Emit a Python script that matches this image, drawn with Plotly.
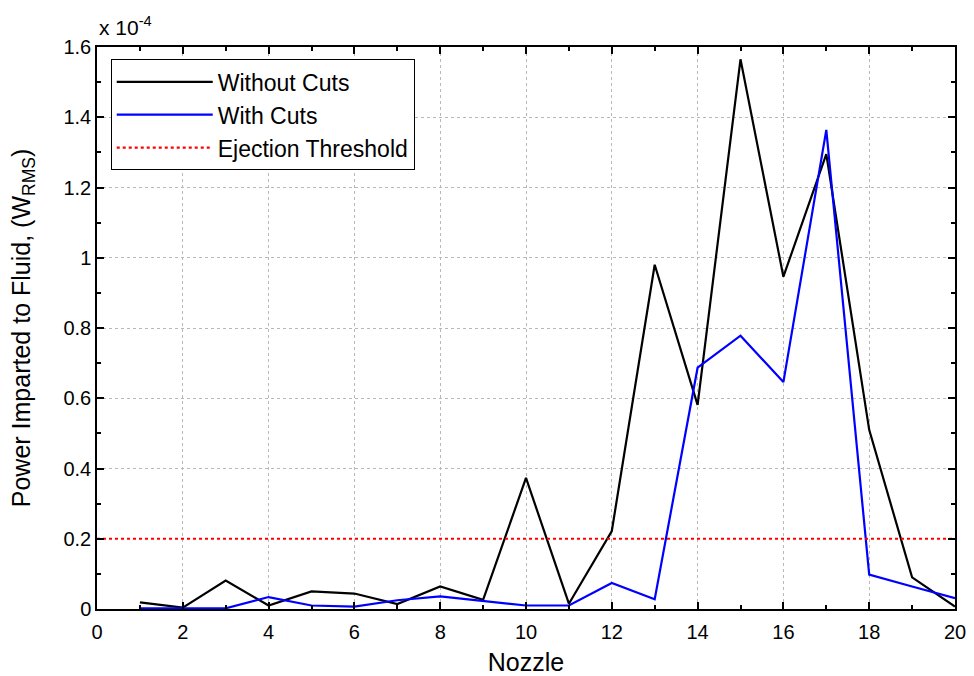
import plotly.graph_objects as go

# Nozzle index and RMS power imparted to the fluid (units of 1e-4 W)
nozzle = list(range(1, 21))
power_without_cuts = [0.019, 0.004, 0.081, 0.010, 0.050, 0.044, 0.014, 0.064, 0.026, 0.373,
                      0.015, 0.222, 0.980, 0.581, 1.565, 0.946, 1.295, 0.510, 0.090, 0.007]
power_with_cuts = [0.002, 0.002, 0.002, 0.034, 0.010, 0.007, 0.025, 0.036, 0.022, 0.010,
                   0.010, 0.074, 0.028, 0.687, 0.778, 0.646, 1.364, 0.098, 0.064, 0.031]
ejection_threshold = 0.2
x_range = [0, 20]
y_range = [0, 1.6]
y_tickvals = [0, 0.2, 0.4, 0.6, 0.8, 1.0, 1.2, 1.4, 1.6]
y_ticktext = ["0", "0.2", "0.4", "0.6", "0.8", "1", "1.2", "1.4", "1.6"]

FONT = "Liberation Sans, Arial, sans-serif"

fig = go.Figure()
fig.add_trace(go.Scatter(x=nozzle, y=power_without_cuts, mode="lines", name="Without Cuts",
                         line=dict(color="black", width=2.2)))
fig.add_trace(go.Scatter(x=nozzle, y=power_with_cuts, mode="lines", name="With Cuts",
                         line=dict(color="#0000ff", width=2.2)))
fig.add_trace(go.Scatter(x=x_range, y=[ejection_threshold] * 2, mode="lines",
                         name="Ejection Threshold",
                         line=dict(color="#ff0000", width=2.2, dash="dot")))

axis_common = dict(
    showline=True, linecolor="black", linewidth=1.5, mirror="ticks",
    ticks="inside", ticklen=7, tickwidth=1.5, tickcolor="black",
    showgrid=True, gridcolor="#b8b8b8", griddash="dot", gridwidth=1,
    zeroline=False, automargin=False,
    tickfont=dict(family=FONT, size=20, color="black"),
)
minor_common = dict(ticks="inside", ticklen=4, tickwidth=1.5, tickcolor="black", showgrid=False)

fig.update_xaxes(range=x_range, tick0=0, dtick=2, ticklabelstandoff=4,
                 minor=dict(dtick=1, **minor_common),
                 title=dict(text="Nozzle", font=dict(family=FONT, size=25, color="black"),
                            standoff=14),
                 **axis_common)
fig.update_yaxes(range=y_range, tickvals=y_tickvals, ticktext=y_ticktext,
                 minor=dict(dtick=0.1, tick0=0, **minor_common),
                 title=dict(text="Power Imparted to Fluid, (W<sub>RMS</sub>)",
                            font=dict(family=FONT, size=25, color="black"), standoff=26),
                 **axis_common)

fig.add_annotation(xref="paper", yref="paper", x=0, y=1, xanchor="left", yanchor="bottom",
                   text="x 10<sup>-4</sup>", showarrow=False, yshift=6,
                   font=dict(family=FONT, size=21, color="black"))

fig.update_layout(
    width=974, height=676,
    margin=dict(l=97, r=19, t=47, b=67),
    paper_bgcolor="white", plot_bgcolor="white",
    showlegend=True,
    legend=dict(x=0.016, y=0.978, xanchor="left", yanchor="top",
                bgcolor="white", bordercolor="black", borderwidth=1,
                font=dict(family=FONT, size=23, color="black"),
                itemwidth=96, tracegroupgap=0),
)

fig.write_html("out.html")
